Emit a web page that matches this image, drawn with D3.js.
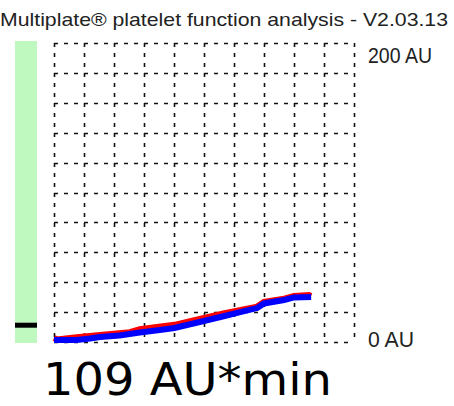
<!DOCTYPE html>
<html><head><meta charset="utf-8">
<script src="https://cdn.jsdelivr.net/npm/d3@7"></script>
<style>html,body{margin:0;padding:0;background:#fff;overflow:hidden}</style>
</head><body>
<script>
// ---- data ----
const title = "Multiplate\u00ae platelet function analysis - V2.03.13";
const yTickLabels = ["200 AU", "0 AU"];
const yTickValues = [200, 0];
const aucValue = 109;           // AU*min
const aucLabel = "109 AU*min";
// time (min) of each sample
const timeRed  = [0, 0.07, 0.53, 0.95, 1.77, 2.0, 2.81, 3.4, 3.98, 4.74, 4.9, 5.37, 5.6, 5.95, 6.0];
const auRed    = [2.7, 1.7, 3.2, 4.4, 6.6, 8.5, 11.5, 15.4, 19.2, 23.7, 26.8, 29.0, 30.8, 31.4, 30.8];
const timeBlue = [0, 0.53, 0.84, 1.07, 1.53, 2.0, 2.47, 2.81, 3.4, 3.98, 4.44, 4.74, 4.9, 5.37, 5.6, 6.0];
const auBlue   = [1.3, 1.3, 2.3, 3.3, 4.3, 6.4, 8.0, 9.4, 13.4, 17.4, 20.7, 22.7, 25.8, 28.1, 29.8, 30.1];

// ---- layout ----
const W = 454, H = 406;
const svg = d3.select("body").append("svg").attr("width", W).attr("height", H);
const x = d3.scaleLinear().domain([0, 7]).range([54, 354]);
const y = d3.scaleLinear().domain([0, 200]).range([342, 43]);
const aucScale = d3.scaleLinear().domain([0, 2000]).range([342, 43]);

// title
svg.append("text").attr("x", 448).attr("y", 26).attr("text-anchor", "end")
  .attr("font-family", "Liberation Sans, Arial, sans-serif").attr("font-size", 19)
  .attr("fill", "#222")
  .attr("textLength", 448).attr("lengthAdjust", "spacingAndGlyphs")
  .text(title);

// green range bar
svg.append("rect").attr("x", 15).attr("width", 22)
  .attr("y", aucScale(2000) - 2).attr("height", aucScale(0) - aucScale(2000) + 3)
  .attr("fill", "#c0f9c0");
// AUC marker
svg.append("rect").attr("x", 15).attr("width", 22)
  .attr("y", aucScale(aucValue) - 3).attr("height", 5).attr("fill", "#000");

// dashed grid
const g = svg.append("g").attr("stroke", "#111").attr("stroke-width", 1.6)
  .attr("stroke-dasharray", "4,6").attr("fill", "none");
const xt = d3.range(0, 7.0001, 0.7);
const yt = d3.range(0, 200.001, 20);
g.selectAll(".v").data(xt).join("line")
  .attr("x1", d => Math.round(x(d)) + 0.5).attr("x2", d => Math.round(x(d)) + 0.5)
  .attr("y1", y(200)).attr("y2", y(0));
g.selectAll(".h").data(yt).join("line")
  .attr("y1", d => Math.round(y(d)) + 0.5).attr("y2", d => Math.round(y(d)) + 0.5)
  .attr("x1", x(0)).attr("x2", x(7));

// curves
const line = d3.line().x(d => x(d[0])).y(d => y(d[1]));
svg.append("path").datum(d3.zip(timeRed, auRed)).attr("d", line)
  .attr("fill", "none").attr("stroke", "#f00").attr("stroke-width", 6);
svg.append("path").datum(d3.zip(timeBlue, auBlue)).attr("d", line)
  .attr("fill", "none").attr("stroke", "#00f").attr("stroke-width", 6);

// y labels
const lblW = [64, 46];
svg.selectAll(".yl").data(yTickValues).join("text")
  .attr("x", 368).attr("y", (d) => y(d) + (d === 0 ? 5 : 20))
  .attr("font-family", "Liberation Sans, Arial, sans-serif").attr("font-size", 22)
  .attr("fill", "#222")
  .attr("textLength", (d, i) => lblW[i]).attr("lengthAdjust", "spacingAndGlyphs")
  .text((d, i) => yTickLabels[i]);

// AUC value
svg.append("text").attr("x", 43).attr("y", 395)
  .attr("font-family", "DejaVu Sans, Verdana, sans-serif").attr("font-size", 44)
  .attr("fill", "#000")
  .attr("textLength", 289).attr("lengthAdjust", "spacingAndGlyphs")
  .text(aucLabel);
</script>
</body></html>
